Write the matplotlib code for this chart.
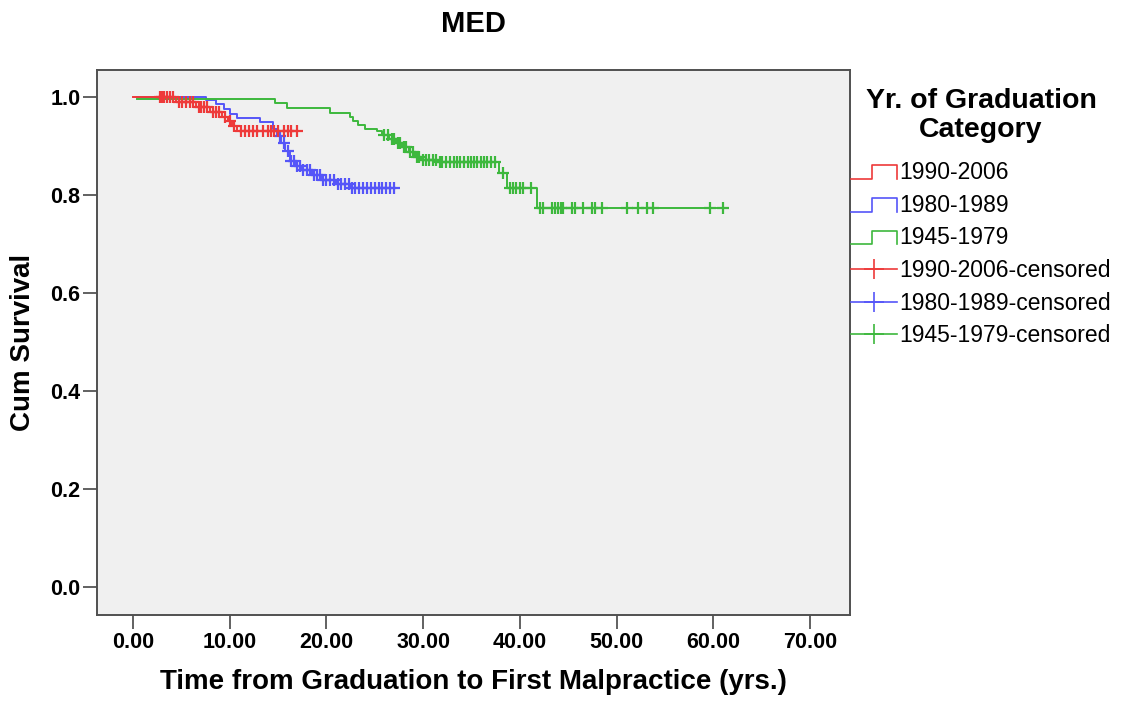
import numpy as np
import matplotlib.pyplot as plt
from matplotlib.lines import Line2D
from matplotlib.legend_handler import HandlerBase

plt.rcParams['font.family'] = ['Liberation Sans', 'DejaVu Sans']

# Kaplan-Meier steps: (event time, survival after event)
red_times = [0.0, 4.5, 6.5, 8.0, 9.2, 9.8, 10.3, 10.8, 17.3]
red_surv = [1.0, 0.99, 0.98, 0.97, 0.96, 0.95, 0.94, 0.93, 0.93]
red_cens = [2.8, 3.0, 3.2, 3.5, 3.8, 4.2, 4.8, 5.1, 5.5, 5.9, 6.2, 6.8, 7.1, 7.4,
            7.7, 8.3, 8.6, 8.9, 9.5, 10.0, 10.5, 11.2, 11.6, 12.0, 12.4, 12.8,
            13.5, 14.0, 14.3, 14.6, 15.0, 15.6, 16.0, 16.4, 17.0]

blue_times = [0.4, 7.6, 8.6, 9.4, 10.0, 10.8, 13.1, 14.5, 14.9, 15.3, 15.7, 16.2,
              16.8, 17.5, 18.5, 19.5, 21.0, 22.5, 27.1]
blue_surv = [1.0, 0.994, 0.985, 0.975, 0.965, 0.957, 0.949, 0.935, 0.92, 0.905,
             0.89, 0.87, 0.86, 0.85, 0.84, 0.83, 0.822, 0.814, 0.814]
blue_cens = [15.2, 15.6, 16.0, 16.4, 16.7, 17.0, 17.3, 17.6, 18.0, 18.3, 18.7, 19.0,
             19.3, 19.7, 20.0, 20.4, 20.8, 21.2, 21.5, 21.9, 22.3, 22.7, 23.0, 23.4,
             23.8, 24.2, 24.6, 25.0, 25.4, 25.8, 26.2, 26.6, 27.0]

green_times = [0.4, 14.7, 15.9, 20.4, 22.5, 22.8, 23.3, 24.0, 25.2, 25.8, 26.5, 27.2,
               27.8, 28.5, 29.2, 29.8, 31.5, 37.9, 38.7, 41.8, 61.2]
green_surv = [0.995, 0.988, 0.978, 0.967, 0.960, 0.950, 0.943, 0.935, 0.93, 0.922,
              0.915, 0.905, 0.897, 0.888, 0.878, 0.871, 0.867, 0.845, 0.814, 0.773,
              0.773]
green_cens = [26.0, 26.4, 26.8, 27.0, 27.4, 27.6, 28.0, 28.2, 28.7, 29.0, 29.4, 29.6,
              30.0, 30.3, 30.6, 31.0, 31.3, 31.7, 32.0, 32.4, 32.8, 33.2, 33.5, 33.8,
              34.2, 34.6, 35.0, 35.3, 35.6, 36.0, 36.3, 36.6, 37.0, 37.4, 38.3, 39.0,
              39.3, 39.6, 40.0, 40.3, 41.2, 42.1, 42.4, 43.3, 43.6, 43.9, 44.3, 44.5,
              45.4, 45.7, 46.5, 47.5, 47.8, 48.5, 51.1, 52.2, 53.1, 53.8, 59.7, 61.0]

groups = ['1990-2006', '1980-1989', '1945-1979']
colors = ['#ee3a3a', '#5555f8', '#3db83d']
x_ticks = [0, 10, 20, 30, 40, 50, 60, 70]
y_ticks = [0.0, 0.2, 0.4, 0.6, 0.8, 1.0]


def surv_at(times, surv, t):
    idx = np.searchsorted(times, t, side='right') - 1
    return np.array(surv)[idx]


class HandlerStep(HandlerBase):
    def create_artists(self, legend, orig_handle, xdescent, ydescent, width, height,
                       fontsize, trans):
        x0, y0 = -xdescent, -ydescent
        xs = [x0, x0 + width * 0.45, x0 + width * 0.45, x0 + width, x0 + width]
        ys = [y0, y0, y0 + height * 0.85, y0 + height * 0.85, y0]
        line = Line2D(xs, ys, color=orig_handle.get_color(), lw=1.2, transform=trans)
        return [line]


fig = plt.figure(figsize=(11.33, 7.09), dpi=100)
ax = fig.add_axes([0.0856, 0.1326, 0.6644, 0.7687])
ax.set_facecolor('#f0f0f0')

data = [(red_times, red_surv, red_cens), (blue_times, blue_surv, blue_cens),
        (green_times, green_surv, green_cens)]
zorders = [5, 3, 3]

step_handles = []
cens_handles = []
for (t, s, c), col, z in zip(data, colors, zorders):
    ax.step(t, s, where='post', color=col, lw=1.4, zorder=z)
    ax.plot(c, surv_at(t, s, c), linestyle='none', marker='+', color=col,
            markersize=8.5, markeredgewidth=1.6, zorder=z)
    step_handles.append(Line2D([], [], color=col))
    cens_handles.append(Line2D([], [], color=col, lw=1.2, marker='+',
                               markersize=14, markeredgewidth=1.2))

ax.set_xlim(-3.7, 74.1)
ax.set_ylim(-0.057, 1.055)
ax.set_xticks(x_ticks)
ax.set_xticklabels(['%.2f' % v for v in x_ticks])
ax.set_yticks(y_ticks)
ax.set_yticklabels(['%.1f' % v for v in y_ticks])
ax.tick_params(direction='out', length=10, width=1.3, color='#555555',
               labelsize=15.5, pad=2)
for lab in ax.get_xticklabels() + ax.get_yticklabels():
    lab.set_fontweight('bold')
for sp in ax.spines.values():
    sp.set_color('#505050')
    sp.set_linewidth(1.4)

ax.set_xlabel('Time from Graduation to First Malpractice (yrs.)', fontsize=20,
              fontweight='bold', labelpad=12)
ax.set_ylabel('Cum Survival', fontsize=20, fontweight='bold', labelpad=10)
ax.set_title('MED', fontsize=21, fontweight='bold', pad=27)

labels = groups + [g + '-censored' for g in groups]
handler_map = {h: HandlerStep() for h in step_handles}
leg = fig.legend(step_handles + cens_handles, labels, loc='upper left',
                 bbox_to_anchor=(0.733, 0.905), frameon=False, fontsize=16.5,
                 handlelength=2.0, handletextpad=0.1, labelspacing=0.42,
                 numpoints=1, handler_map=handler_map,
                 title='Yr. of Graduation\nCategory',
                 title_fontproperties={'weight': 'bold', 'size': 20.5})
leg._legend_box.align = 'center'
leg._legend_box.sep = 13
leg.get_title().set_multialignment('center')
leg.get_title().set_linespacing(1.15)

fig.savefig('out.png', dpi=100)
